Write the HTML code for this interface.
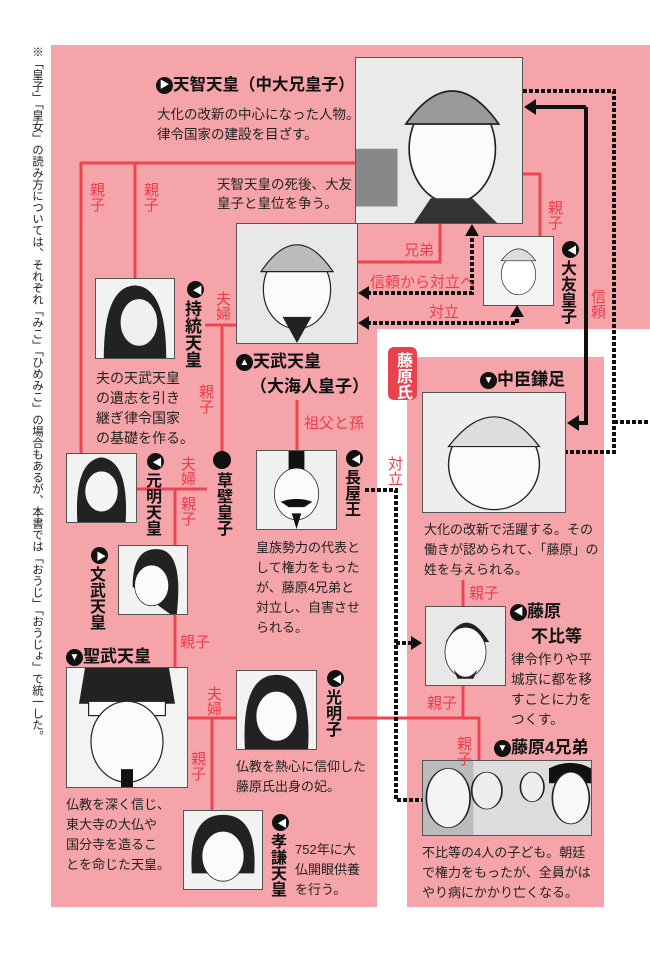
<!DOCTYPE html>
<html><head><meta charset="utf-8"><style>
*{margin:0;padding:0;box-sizing:border-box}
body{width:650px;height:955px;background:#fff;position:relative;overflow:hidden;font-family:"Liberation Sans","Noto Sans CJK JP",sans-serif;color:#222}
.a{position:absolute;white-space:nowrap}
.pk{position:absolute;background:#f5a5aa}
.t{font-weight:bold;font-size:17px;color:#111;line-height:18px}
.d{font-size:13px;line-height:20px;color:#222}
.v{writing-mode:vertical-rl;}
.r{color:#ea3e4c;font-size:15px;line-height:15px}
.ic{display:inline-block;width:17px;height:17px;border-radius:50%;background:#111;color:#fff;font-size:10px;line-height:17px;text-align:center;vertical-align:middle}
.p{position:absolute;border:1px solid #555;background:#eee;overflow:hidden}
.p svg{width:100%;height:100%;display:block}
</style></head><body>
<div class="a v" style="left:29px;top:46px;font-size:11.5px;line-height:15px;color:#222">※「皇子」「皇女」の読み方については、それぞれ「みこ」「ひめみこ」の場合もあるが、本書では「おうじ」「おうじょ」で統一した。</div>

<div class="pk" style="left:51px;top:45px;width:599px;height:284px"></div>
<div class="pk" style="left:51px;top:329px;width:326px;height:578px"></div>
<div class="pk" style="left:407px;top:357px;width:197px;height:550px"></div>

<svg class="a" style="left:0;top:0" width="650" height="955">
<g stroke="#ee4450" stroke-width="3" fill="none">
<polyline points="355,163 81,163 81,453"/><line x1="135" y1="163" x2="135" y2="278"/>
<polyline points="523,174 540,174 540,236"/>
<polyline points="440,224 440,262 358,262"/>
<line x1="205" y1="325" x2="236" y2="325"/><line x1="222" y1="325" x2="222" y2="455"/>
<line x1="297" y1="400" x2="297" y2="450"/>
<line x1="137" y1="489" x2="207" y2="489"/><line x1="175" y1="489" x2="175" y2="667"/>
<line x1="188" y1="718" x2="236" y2="718"/><line x1="212" y1="718" x2="212" y2="810"/>
<polyline points="347,718 479,718 479,760"/>
<line x1="463" y1="580" x2="463" y2="606"/><line x1="463" y1="686" x2="463" y2="718"/>
</g>
<g stroke="#111" stroke-width="4" fill="none" stroke-dasharray="4 2">
<polyline points="472,232 472,293 364,293"/>
<polyline points="517,313 517,323 364,323"/>
<polyline points="523,91 614,91 614,452 566,452"/><line x1="614" y1="422" x2="650" y2="422"/>
<polyline points="365,490 396,490 396,800 422,800"/><line x1="396" y1="643" x2="412" y2="643"/>
</g>
<polyline points="586,107 586,423 574,423" stroke="#111" stroke-width="4" fill="none"/>
<line x1="586" y1="107" x2="532" y2="107" stroke="#111" stroke-width="4"/>
<g fill="#111">
<polygon points="472,224 465,236 479,236"/><polygon points="358,293 369,286 369,300"/>
<polygon points="517,305 510,317 524,317"/><polygon points="358,323 369,316 369,330"/>
<polygon points="524,107 536,99 536,115"/><polygon points="567,423 579,415 579,431"/>
<polygon points="422,643 411,636 411,650"/>
</g>
</svg>

<!-- portraits -->
<div class="p" style="left:355px;top:57px;width:168px;height:167px"><svg viewBox="0 0 100 100" preserveAspectRatio="none"><rect width="100" height="100" fill="#eaeaea"/><rect x="0" y="55" width="25" height="35" fill="#888"/><ellipse cx="58" cy="55" rx="26" ry="33" fill="#fbfbfb" stroke="#222"/><path d="M30 40 Q58 0 86 40 Z" fill="#999" stroke="#222"/><path d="M35 100 L45 85 L70 85 L85 100Z" fill="#333"/></svg></div>
<div class="p" style="left:236px;top:223px;width:122px;height:121px"><svg viewBox="0 0 100 100" preserveAspectRatio="none"><rect width="100" height="100" fill="#e8e8e8"/><ellipse cx="50" cy="55" rx="28" ry="33" fill="#fbfbfb" stroke="#222"/><path d="M20 40 Q50 -5 80 40 Z" fill="#bbb" stroke="#222"/><path d="M38 78 L50 100 L62 78Z" fill="#222"/></svg></div>
<div class="p" style="left:483px;top:236px;width:71px;height:70px"><svg viewBox="0 0 100 100" preserveAspectRatio="none"><rect width="100" height="100" fill="#f4f4f4"/><ellipse cx="50" cy="55" rx="25" ry="30" fill="#fff" stroke="#222"/><path d="M25 35 Q50 0 75 35Z" fill="#ddd" stroke="#222"/></svg></div>
<div class="p" style="left:95px;top:278px;width:80px;height:81px"><svg viewBox="0 0 100 100" preserveAspectRatio="none"><rect width="100" height="100" fill="#f2f2f2"/><path d="M10 100 Q10 10 50 8 Q90 10 90 100Z" fill="#222"/><ellipse cx="55" cy="55" rx="24" ry="30" fill="#f0f0f0" stroke="#222"/></svg></div>
<div class="p" style="left:422px;top:392px;width:144px;height:121px"><svg viewBox="0 0 100 100" preserveAspectRatio="none"><rect width="100" height="100" fill="#eee"/><ellipse cx="50" cy="60" rx="32" ry="38" fill="#fbfbfb" stroke="#222"/><path d="M18 45 Q50 -5 82 45Z" fill="#ddd" stroke="#222"/></svg></div>
<div class="p" style="left:66px;top:453px;width:71px;height:70px"><svg viewBox="0 0 100 100" preserveAspectRatio="none"><rect width="100" height="100" fill="#f2f2f2"/><path d="M15 100 Q10 10 50 5 Q90 10 85 100Z" fill="#222"/><ellipse cx="50" cy="55" rx="24" ry="30" fill="#f5f5f5" stroke="#222"/></svg></div>
<div class="p" style="left:256px;top:450px;width:81px;height:80px"><svg viewBox="0 0 100 100" preserveAspectRatio="none"><rect width="100" height="100" fill="#f0f0f0"/><rect x="40" y="0" width="20" height="25" fill="#111"/><ellipse cx="50" cy="55" rx="28" ry="33" fill="#fbfbfb" stroke="#222"/><path d="M30 65 Q50 58 70 65 L60 72 L40 72Z" fill="#111"/><path d="M44 80 L50 100 L56 80Z" fill="#111"/></svg></div>
<div class="p" style="left:118px;top:545px;width:70px;height:70px"><svg viewBox="0 0 100 100" preserveAspectRatio="none"><rect width="100" height="100" fill="#f2f2f2"/><path d="M20 60 Q20 0 60 5 Q95 10 85 100 L75 100Z" fill="#222"/><ellipse cx="48" cy="58" rx="25" ry="30" fill="#fbfbfb" stroke="#222"/></svg></div>
<div class="p" style="left:425px;top:606px;width:81px;height:80px"><svg viewBox="0 0 100 100" preserveAspectRatio="none"><rect width="100" height="100" fill="#e8e8e8"/><path d="M25 45 Q50 -5 80 45Z" fill="#222"/><ellipse cx="50" cy="58" rx="26" ry="32" fill="#fbfbfb" stroke="#222"/><path d="M35 80 Q50 100 65 80 L60 92 L40 92Z" fill="#222"/></svg></div>
<div class="p" style="left:66px;top:667px;width:122px;height:121px"><svg viewBox="0 0 100 100" preserveAspectRatio="none"><rect width="100" height="100" fill="#f3f3f3"/><path d="M10 30 L90 30 L85 0 L15 0Z" fill="#222"/><rect x="18" y="28" width="64" height="12" fill="#fff" stroke="#222"/><ellipse cx="50" cy="62" rx="30" ry="34" fill="#fbfbfb" stroke="#222"/><rect x="45" y="85" width="10" height="15" fill="#111"/></svg></div>
<div class="p" style="left:236px;top:670px;width:81px;height:80px"><svg viewBox="0 0 100 100" preserveAspectRatio="none"><rect width="100" height="100" fill="#f2f2f2"/><path d="M10 100 Q5 5 50 5 Q95 5 90 100Z" fill="#222"/><ellipse cx="50" cy="58" rx="26" ry="32" fill="#fbfbfb" stroke="#222"/></svg></div>
<div class="p" style="left:183px;top:810px;width:80px;height:80px"><svg viewBox="0 0 100 100" preserveAspectRatio="none"><rect width="100" height="100" fill="#f2f2f2"/><path d="M10 80 Q5 5 50 5 Q95 5 90 80Z" fill="#222"/><ellipse cx="50" cy="58" rx="27" ry="32" fill="#fbfbfb" stroke="#222"/></svg></div>
<div class="p" style="left:422px;top:760px;width:170px;height:76px"><svg viewBox="0 0 100 100" preserveAspectRatio="none"><rect width="100" height="100" fill="#ddd"/><rect x="0" y="0" width="30" height="100" fill="#bbb"/><ellipse cx="15" cy="50" rx="13" ry="40" fill="#f4f4f4" stroke="#222"/><ellipse cx="38" cy="40" rx="9" ry="25" fill="#eee" stroke="#222"/><ellipse cx="65" cy="35" rx="7" ry="20" fill="#eee" stroke="#222"/><path d="M75 10 Q88 -5 100 10 L100 30 L75 30Z" fill="#111"/><ellipse cx="88" cy="50" rx="11" ry="35" fill="#f8f8f8" stroke="#222"/></svg></div>

<!-- titles -->
<div class="a t" style="left:156px;top:76px;font-size:16.5px"><span class="ic">▶</span>天智天皇（中大兄皇子）</div>
<div class="a d" style="left:157px;top:105px;font-size:13.5px">大化の改新の中心になった人物。</div>
<div class="a d" style="left:157px;top:125px;font-size:13.5px">律令国家の建設を目ざす。</div>
<div class="a d" style="left:217px;top:175px;font-size:13.5px">天智天皇の死後、大友</div>
<div class="a d" style="left:217px;top:194px;font-size:13.5px">皇子と皇位を争う。</div>

<div class="a t v" style="left:557px;top:241px;font-size:16px"><span class="ic" style="margin-bottom:2px">◀</span>大友皇子</div>
<div class="a t v" style="left:182px;top:281px"><span class="ic" style="margin-bottom:2px">◀</span>持統天皇</div>
<div class="a d" style="left:96px;top:368px;font-size:14px">夫の天武天皇</div>
<div class="a d" style="left:96px;top:388px;font-size:14px">の遺志を引き</div>
<div class="a d" style="left:96px;top:408px;font-size:14px">継ぎ律令国家</div>
<div class="a d" style="left:96px;top:428px;font-size:14px">の基礎を作る。</div>

<div class="a t" style="left:236px;top:353px"><span class="ic">▲</span>天武天皇</div>
<div class="a t" style="left:250px;top:378px">（大海人皇子）</div>

<div class="a" style="left:388px;top:347px;width:29px;height:53px;background:#e8424f;border-radius:6px"></div>
<div class="a t v" style="left:393px;top:352px;color:#fff;font-size:16px">藤原氏</div>
<div class="a t" style="left:480px;top:371px"><span class="ic">▼</span>中臣鎌足</div>

<div class="a t v" style="left:142px;top:453px;font-size:16px"><span class="ic" style="margin-bottom:2px">◀</span>元明天皇</div>
<div class="a" style="left:213px;top:451px;width:18px;height:18px;border-radius:50%;background:#111"></div>
<div class="a t v" style="left:213px;top:472px;font-size:16px">草壁皇子</div>
<div class="a t v" style="left:341px;top:450px;font-size:16px"><span class="ic" style="margin-bottom:2px">◀</span>長屋王</div>
<div class="a t v" style="left:86px;top:547px;font-size:16px"><span class="ic" style="margin-bottom:2px">▶</span>文武天皇</div>

<div class="a d" style="left:256px;top:538px">皇族勢力の代表と</div>
<div class="a d" style="left:256px;top:558px">して権力をもった</div>
<div class="a d" style="left:256px;top:578px">が、藤原4兄弟と</div>
<div class="a d" style="left:256px;top:598px">対立し、自害させ</div>
<div class="a d" style="left:256px;top:618px">られる。</div>

<div class="a d" style="left:424px;top:520px">大化の改新で活躍する。その</div>
<div class="a d" style="left:424px;top:540px">働きが認められて、「藤原」の</div>
<div class="a d" style="left:424px;top:560px">姓を与えられる。</div>

<div class="a t" style="left:510px;top:603px"><span class="ic">◀</span>藤原</div>
<div class="a t" style="left:531px;top:628px">不比等</div>
<div class="a d" style="left:511px;top:650px;font-size:13.5px">律令作りや平</div>
<div class="a d" style="left:511px;top:670px;font-size:13.5px">城京に都を移</div>
<div class="a d" style="left:511px;top:690px;font-size:13.5px">すことに力を</div>
<div class="a d" style="left:511px;top:710px;font-size:13.5px">つくす。</div>

<div class="a t" style="left:494px;top:739px"><span class="ic">▼</span>藤原4兄弟</div>
<div class="a d" style="left:422px;top:843px">不比等の4人の子ども。朝廷</div>
<div class="a d" style="left:422px;top:863px">で権力をもったが、全員がは</div>
<div class="a d" style="left:422px;top:883px">やり病にかかり亡くなる。</div>

<div class="a t" style="left:66px;top:648px"><span class="ic">▼</span>聖武天皇</div>
<div class="a d" style="left:66px;top:795px">仏教を深く信じ、</div>
<div class="a d" style="left:66px;top:815px">東大寺の大仏や</div>
<div class="a d" style="left:66px;top:835px">国分寺を造るこ</div>
<div class="a d" style="left:66px;top:855px">とを命じた天皇。</div>

<div class="a t v" style="left:322px;top:670px;font-size:16px"><span class="ic" style="margin-bottom:2px">◀</span>光明子</div>
<div class="a d" style="left:236px;top:757px">仏教を熱心に信仰した</div>
<div class="a d" style="left:236px;top:777px">藤原氏出身の妃。</div>
<div class="a t v" style="left:267px;top:814px;font-size:16px"><span class="ic" style="margin-bottom:2px">◀</span>孝謙天皇</div>
<div class="a d" style="left:295px;top:840px">752年に大</div>
<div class="a d" style="left:295px;top:860px">仏開眼供養</div>
<div class="a d" style="left:295px;top:880px">を行う。</div>

<!-- red labels -->
<div class="a r v" style="left:89px;top:182px">親子</div>
<div class="a r v" style="left:143px;top:182px">親子</div>
<div class="a r v" style="left:547px;top:200px">親子</div>
<div class="a r" style="left:404px;top:243px">兄弟</div>
<div class="a r" style="left:370px;top:275px">信頼から対立へ</div>
<div class="a r" style="left:429px;top:305px">対立</div>
<div class="a r v" style="left:590px;top:289px">信頼</div>
<div class="a r v" style="left:215px;top:291px">夫婦</div>
<div class="a r v" style="left:198px;top:384px">親子</div>
<div class="a r" style="left:304px;top:416px">祖父と孫</div>
<div class="a r v" style="left:387px;top:456px">対立</div>
<div class="a r v" style="left:180px;top:456px">夫婦</div>
<div class="a r v" style="left:180px;top:496px">親子</div>
<div class="a r" style="left:180px;top:635px">親子</div>
<div class="a r" style="left:469px;top:586px">親子</div>
<div class="a r" style="left:427px;top:696px">親子</div>
<div class="a r v" style="left:456px;top:736px">親子</div>
<div class="a r v" style="left:206px;top:686px">夫婦</div>
<div class="a r v" style="left:190px;top:751px">親子</div>
</body></html>
